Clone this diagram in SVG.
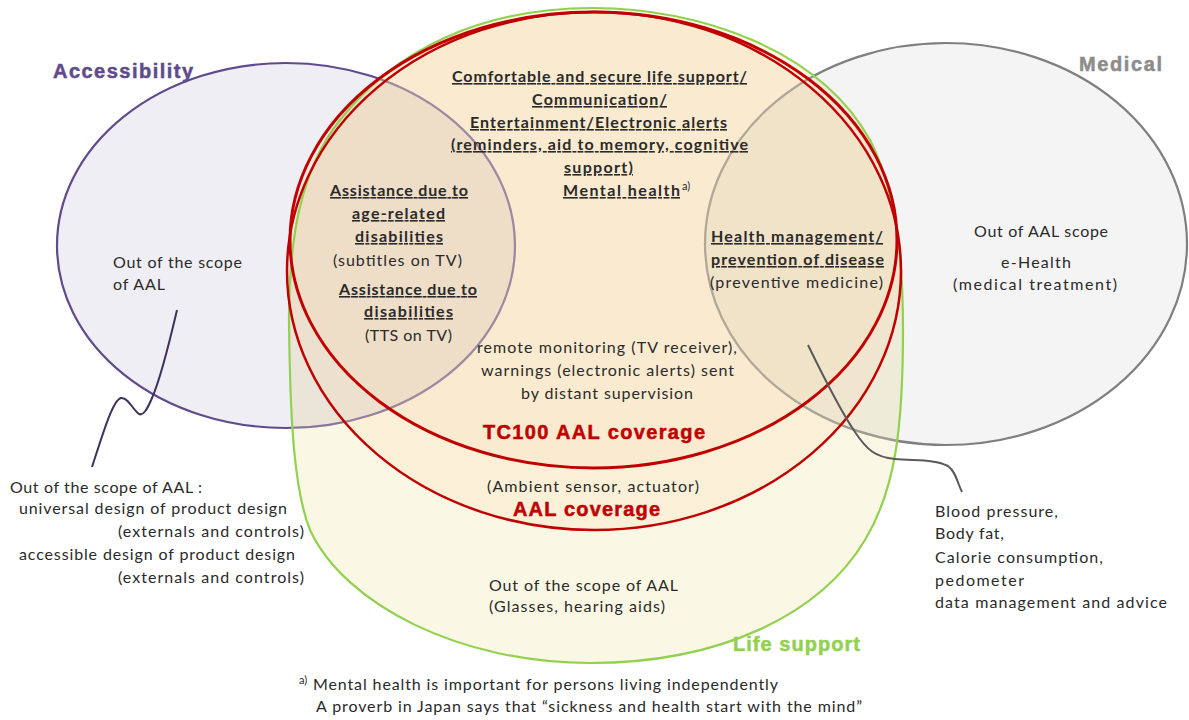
<svg xmlns="http://www.w3.org/2000/svg" width="1189" height="720" viewBox="0 0 1189 720">
<defs>
<style>
.t{font-family:Lato,"Liberation Sans",sans-serif;font-size:16px;fill:#2a2a2a}
.b{font-weight:bold;text-decoration:underline}
.h{font-family:"Liberation Sans",Arial,sans-serif;font-weight:bold;font-size:20px;stroke-width:0.5}
.sup{font-family:Lato,"Liberation Sans",sans-serif;font-size:11px;fill:#2a2a2a}
.peach{fill:#FBE0BC;fill-opacity:0.3}
</style>
<path id="lsPath" d="M593,8 C700,8 820,50 870,140 C895,190 903,250 903,330 C903,430 895,490 865,540 C820,615 720,663 590,663 C460,663 345,605 310,530 C294,490 290,420 289,320 C289,240 300,170 340,120 C395,50 480,8 593,8 Z"/>
<clipPath id="lsClip">
<use href="#lsPath"/>
</clipPath>
</defs>
<rect width="1189" height="720" fill="#ffffff"/>
<g id="accessibility">
<ellipse cx="286" cy="245.5" rx="229" ry="182.5" fill="#F0EEF5" stroke="#5F4B8B" stroke-width="2.2"/>
<text class="h" x="53" y="78" fill="#5F4B8B" stroke="#5F4B8B" textLength="140" lengthAdjust="spacing">Accessibility</text>
<text class="t" x="113" y="268" textLength="129" lengthAdjust="spacing">Out of the scope</text>
<text class="t" x="113" y="290" textLength="52" lengthAdjust="spacing">of AAL</text>
</g>
<g id="medical">
<ellipse cx="946" cy="244" rx="241" ry="201" fill="#F4F4F5" stroke="#7F7F7F" stroke-width="2.2"/>
<text class="h" x="1079" y="71" fill="#8C8C8C" stroke="#8C8C8C" textLength="83" lengthAdjust="spacing">Medical</text>
<text class="t" x="974" y="237" textLength="134" lengthAdjust="spacing">Out of AAL scope</text>
<text class="t" x="1001" y="268" textLength="70" lengthAdjust="spacing">e-Health</text>
<text class="t" x="953" y="290" textLength="164" lengthAdjust="spacing">(medical  treatment)</text>
</g>
<g id="life-support">
<use href="#lsPath" fill="#F5EFC9" fill-opacity="0.5"/>
</g>
<g id="aal-coverage">
<ellipse cx="594" cy="271" rx="307" ry="259" class="peach"/>
</g>
<g id="tc100-coverage">
<ellipse cx="593.5" cy="240" rx="303.5" ry="228" class="peach"/>
</g>
<g id="overlaps" clip-path="url(#lsClip)">
<ellipse cx="286" cy="245.5" rx="229" ry="182.5" fill="#5F4B8B" fill-opacity="0.06" stroke="#5F4B8B" stroke-opacity="0.45" stroke-width="2.2"/>
<ellipse cx="946" cy="244" rx="241" ry="201" fill="#6F6F6F" fill-opacity="0.05" stroke="#7F7F7F" stroke-opacity="0.45" stroke-width="2.2"/>
</g>
<g id="outlines" fill="none">
<use href="#lsPath" stroke="#92D050" stroke-width="2.2"/>
<ellipse cx="594" cy="271" rx="307" ry="259" stroke="#C00000" stroke-width="2.5"/>
<ellipse cx="593.5" cy="240" rx="303.5" ry="228" stroke="#C00000" stroke-width="3"/>
</g>
<g id="scope-labels">
<text class="t" x="489" y="591" textLength="189" lengthAdjust="spacing">Out of  the scope of AAL</text>
<text class="t" x="489" y="612" textLength="176" lengthAdjust="spacing">(Glasses, hearing aids)</text>
<text class="h" x="733" y="651" fill="#92D050" stroke="#92D050" textLength="127" lengthAdjust="spacing">Life support</text>
<text class="t" x="487" y="492" textLength="212" lengthAdjust="spacing">(Ambient sensor, actuator)</text>
<text class="h" x="513" y="516" fill="#C00000" stroke="#C00000" textLength="147" lengthAdjust="spacing">AAL coverage</text>
<text class="h" x="483" y="439" fill="#C00000" stroke="#C00000" textLength="222" lengthAdjust="spacing">TC100 AAL coverage</text>
<text class="t" x="477" y="353" textLength="260" lengthAdjust="spacing">remote monitoring (TV receiver),</text>
<text class="t" x="481" y="376" textLength="253" lengthAdjust="spacing">warnings (electronic alerts) sent</text>
<text class="t" x="521" y="399" textLength="172" lengthAdjust="spacing">by distant supervision</text>
</g>
<g id="life-support-topics">
<text class="t b" x="452" y="82" textLength="295" lengthAdjust="spacing">Comfortable and secure life support/</text>
<text class="t b" x="532" y="105" textLength="135" lengthAdjust="spacing">Communication/</text>
<text class="t b" x="470" y="128" textLength="257" lengthAdjust="spacing">Entertainment/Electronic  alerts</text>
<text class="t b" x="451" y="150" textLength="297" lengthAdjust="spacing">(reminders, aid to memory, cognitive</text>
<text class="t b" x="564" y="173" textLength="69" lengthAdjust="spacing">support)</text>
<text class="t b" x="563" y="196" textLength="117" lengthAdjust="spacing">Mental health</text>
<text class="sup" x="682" y="190">a)</text>
</g>
<g id="accessibility-topics">
<text class="t b" x="330" y="196" textLength="138" lengthAdjust="spacing">Assistance due to</text>
<text class="t b" x="352" y="219" textLength="93" lengthAdjust="spacing">age-related</text>
<text class="t b" x="355" y="242" textLength="88" lengthAdjust="spacing">disabilities</text>
<text class="t" x="333" y="266" textLength="129" lengthAdjust="spacing">(subtitles on TV)</text>
<text class="t b" x="339" y="295" textLength="138" lengthAdjust="spacing">Assistance due to</text>
<text class="t b" x="364" y="317" textLength="89" lengthAdjust="spacing">disabilities</text>
<text class="t" x="365" y="341" textLength="87" lengthAdjust="spacing">(TTS on TV)</text>
</g>
<g id="medical-topics">
<text class="t b" x="711" y="242" textLength="172" lengthAdjust="spacing">Health management/</text>
<text class="t b" x="711" y="265" textLength="173" lengthAdjust="spacing">prevention of disease</text>
<text class="t" x="710" y="288" textLength="173" lengthAdjust="spacing">(preventive medicine)</text>
</g>
<g id="connectors" fill="none" stroke-width="2">
<path d="M177,310 C170,340 160,380 152,398 C147,410 143,416 139,414 C133,410 128,397 121,398 C113,400 104,430 92,467" stroke="#3F3157"/>
<path d="M808,345 C825,380 840,410 855,432 C867,450 875,457 895,459 C915,461 935,459 948,466 C956,472 957,482 962,492" stroke="#5A5A5A"/>
</g>
<g id="accessibility-note">
<text class="t" x="10" y="493" textLength="192" lengthAdjust="spacing">Out of the scope of AAL :</text>
<text class="t" x="19" y="514" textLength="268" lengthAdjust="spacing">universal design of product design</text>
<text class="t" x="118" y="537" textLength="186" lengthAdjust="spacing">(externals and controls)</text>
<text class="t" x="19" y="560" textLength="276" lengthAdjust="spacing">accessible design of product design</text>
<text class="t" x="118" y="583" textLength="186" lengthAdjust="spacing">(externals and controls)</text>
</g>
<g id="medical-note">
<text class="t" x="935" y="517" textLength="123" lengthAdjust="spacing">Blood pressure,</text>
<text class="t" x="935" y="539" textLength="69" lengthAdjust="spacing">Body fat,</text>
<text class="t" x="935" y="563" textLength="168" lengthAdjust="spacing">Calorie consumption,</text>
<text class="t" x="935" y="586" textLength="89" lengthAdjust="spacing">pedometer</text>
<text class="t" x="935" y="608" textLength="232" lengthAdjust="spacing">data management and advice</text>
</g>
<g id="footnote">
<text class="sup" x="299" y="684">a)</text>
<text class="t" x="313" y="690" textLength="465" lengthAdjust="spacing">Mental health is important for persons living independently</text>
<text class="t" x="316" y="712" textLength="546" lengthAdjust="spacing">A proverb in Japan says that “sickness and health start with the mind”</text>
</g>
</svg>
